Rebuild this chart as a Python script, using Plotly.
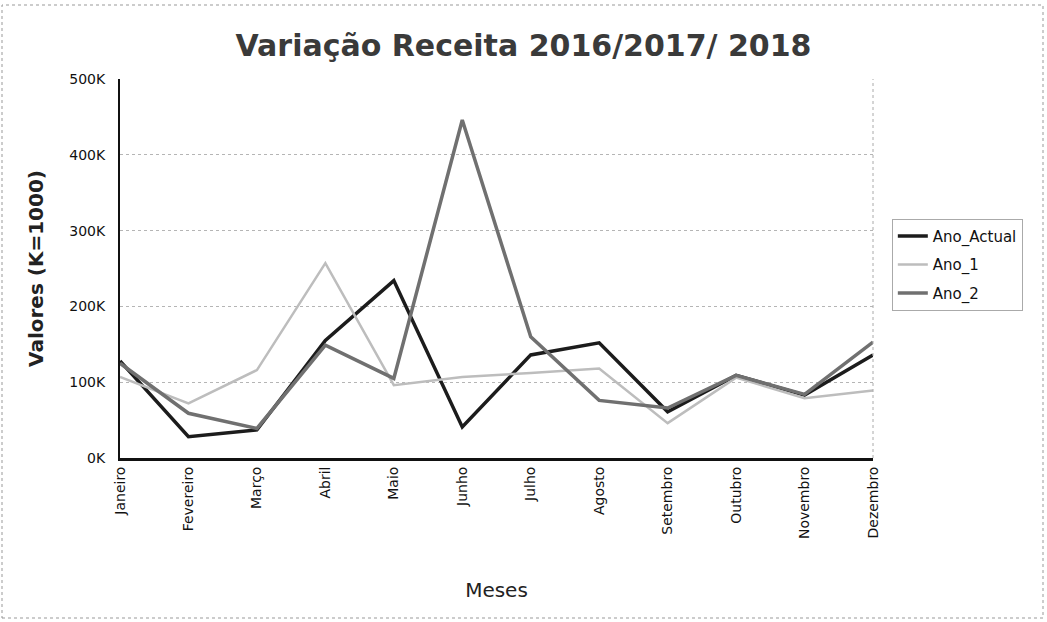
import plotly.graph_objects as go

meses = ["Janeiro", "Fevereiro", "Março", "Abril", "Maio", "Junho", "Julho",
         "Agosto", "Setembro", "Outubro", "Novembro", "Dezembro"]
ano_actual = [128000, 28000, 37000, 155000, 234000, 41000, 136000, 152000, 61000, 109000, 83000, 136000]
ano_1 = [107000, 72000, 116000, 257000, 96000, 107000, 112000, 118000, 46000, 106000, 79000, 89000]
ano_2 = [125000, 59000, 39000, 149000, 105000, 446000, 160000, 76000, 66000, 109000, 84000, 153000]
y_ticks = [0, 100000, 200000, 300000, 400000, 500000]
y_tick_labels = ["0K", "100K", "200K", "300K", "400K", "500K"]

fig = go.Figure()
fig.add_trace(go.Scatter(x=meses, y=ano_actual, mode="lines", name="Ano_Actual",
                         legendgroup="a", line=dict(color="#1c1c1c", width=3.5)))
fig.add_trace(go.Scatter(x=meses, y=ano_1, mode="lines", name="Ano_1",
                         legendgroup="b", line=dict(color="#bdbdbd", width=2.5)))
fig.add_trace(go.Scatter(x=meses, y=ano_2, mode="lines", name="Ano_2",
                         legendgroup="c", line=dict(color="#707070", width=3.5)))

fig.update_layout(
    width=1047, height=622,
    paper_bgcolor="white", plot_bgcolor="white",
    margin=dict(l=120, r=174, t=79, b=164),
    font=dict(family="DejaVu Sans, Verdana, sans-serif", color="#222"),
    title=dict(text="<b>Variação Receita 2016/2017/ 2018</b>", x=0.5, xanchor="center",
               y=1 - 45 / 622, yanchor="middle",
               font=dict(size=30, color="#3a3a3a")),
    showlegend=True,
    legend=dict(x=1.025, xanchor="left", y=0.51, yanchor="middle",
                bordercolor="#aaaaaa", borderwidth=1, bgcolor="white",
                itemwidth=30,
                font=dict(size=15, color="#111"), tracegroupgap=6),
    xaxis=dict(range=[0, 11], tickangle=-90, showgrid=False,
               showline=True, linecolor="#111", linewidth=3,
               mirror=False, ticks="", tickfont=dict(size=14, color="#111"),
               title=dict(text="Meses", font=dict(size=20, color="#222"), standoff=45)),
    yaxis=dict(range=[0, 500000], tickvals=y_ticks, ticktext=y_tick_labels,
               showgrid=True, gridcolor="#b5b5b5", griddash="dot", gridwidth=1,
               showline=True, linecolor="#111", linewidth=2,
               zeroline=False, ticks="", tickfont=dict(size=14, color="#111"),
               ticklabelstandoff=10,
               title=dict(text="<b>Valores (K=1000)</b>", font=dict(size=20, color="#222"), standoff=20)),
)

# right border of plot area
fig.add_shape(type="line", xref="paper", yref="paper", x0=1, x1=1, y0=0, y1=1,
              line=dict(color="#aaaaaa", width=1, dash="dot"))
# outer frame
fig.add_shape(type="rect", xref="paper", yref="paper",
              x0=-118 / 753, x1=1 + 170 / 753, y0=-160 / 379, y1=1 + 74 / 379,
              line=dict(color="#999999", width=1, dash="dot"))

fig.write_html("out.html", config={"displayModeBar": False},
               post_script="document.body.style.margin='0';")
